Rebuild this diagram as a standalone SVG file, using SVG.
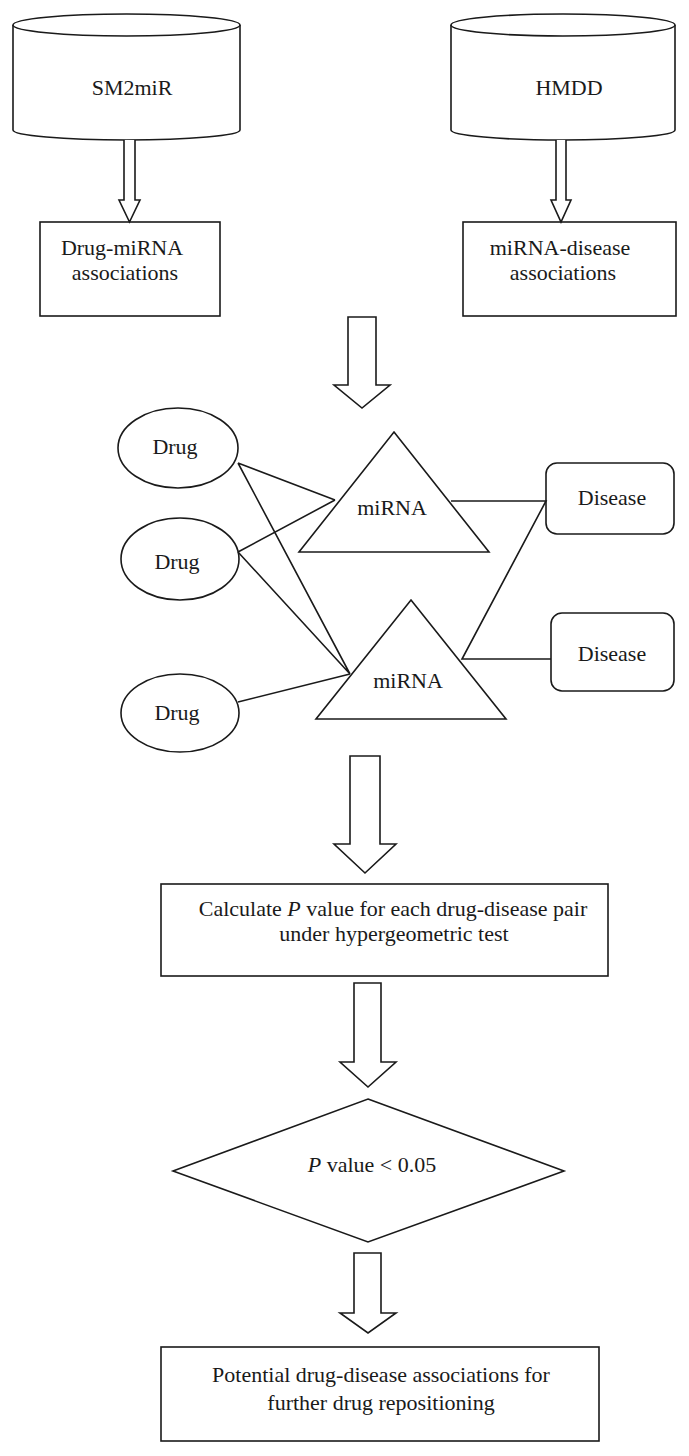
<svg xmlns="http://www.w3.org/2000/svg" width="689" height="1456" viewBox="0 0 689 1456">
<style>
.s{fill:#fff;stroke:#1a1a1a;stroke-width:1.6;stroke-linejoin:miter}
.l{fill:none;stroke:#1a1a1a;stroke-width:1.6}
.t{font-family:"Liberation Serif","Times New Roman",serif;font-size:22px;fill:#1a1a1a;text-anchor:middle}
</style>
<rect width="689" height="1456" fill="#fff"/>
<g id="sm2mir">
<path class="s" d="M13,25 L13,130 A113.5,10 0 0 0 240,130 L240,25"/>
<ellipse class="s" cx="126.5" cy="25" rx="113.5" ry="11"/>
<text class="t" x="132" y="95">SM2miR</text>
</g>
<g id="hmdd">
<path class="s" d="M451,25 L451,130 A112,10 0 0 0 675,130 L675,25"/>
<ellipse class="s" cx="563" cy="25" rx="112" ry="11"/>
<text class="t" x="569" y="95">HMDD</text>
</g>
<g id="drug-mirna">
<rect class="s" x="40" y="222" width="180" height="94"/>
<text class="t" x="122" y="255">Drug-miRNA</text>
<text class="t" x="125" y="280">associations</text>
</g>
<g id="mirna-disease">
<rect class="s" x="463" y="222" width="213" height="94"/>
<text class="t" x="560" y="255">miRNA-disease</text>
<text class="t" x="563" y="280">associations</text>
</g>
<g id="drug1">
<ellipse class="s" cx="178" cy="448" rx="60" ry="40"/>
<text class="t" x="175" y="454">Drug</text>
</g>
<g id="drug2">
<ellipse class="s" cx="180" cy="559" rx="59" ry="41"/>
<text class="t" x="177" y="569">Drug</text>
</g>
<g id="drug3">
<ellipse class="s" cx="180" cy="713" rx="59" ry="39"/>
<text class="t" x="177" y="720">Drug</text>
</g>
<g id="mirna1">
<polygon class="s" points="394,432 489,552 299,552"/>
<text class="t" x="392" y="515">miRNA</text>
</g>
<g id="mirna2">
<polygon class="s" points="411,600 506,719 316,719"/>
<text class="t" x="408" y="688">miRNA</text>
</g>
<g id="disease1">
<rect class="s" x="546" y="463" width="128" height="71" rx="11"/>
<text class="t" x="612" y="505">Disease</text>
</g>
<g id="disease2">
<rect class="s" x="551" y="613" width="123" height="78" rx="11"/>
<text class="t" x="612" y="661">Disease</text>
</g>
<g id="calc">
<rect class="s" x="161" y="884" width="447" height="92"/>
<text class="t" x="393" y="916">Calculate <tspan font-style="italic">P</tspan> value for each drug-disease pair</text>
<text class="t" x="394" y="941">under hypergeometric test</text>
</g>
<g id="decision">
<polygon class="s" points="368,1099 564,1171 368,1242 173,1171"/>
<text class="t" x="372" y="1172"><tspan font-style="italic">P</tspan> value &lt; 0.05</text>
</g>
<g id="result">
<rect class="s" x="161" y="1347" width="438" height="94"/>
<text class="t" x="381" y="1382">Potential drug-disease associations for</text>
<text class="t" x="381" y="1410">further drug repositioning</text>
</g>
<g id="connectors">
<path class="s" d="M124,140 L124,200 L119,200 L129.5,222 L140,200 L135,200 L135,140"/>
<path class="s" d="M556,140 L556,200 L551,200 L561,222 L571,200 L566,200 L566,140"/>
<polygon class="s" points="348,317 376,317 376,385 390,385 362,408 334,385 348,385"/>
<polygon class="s" points="350,756 380,756 380,844 396,844 365,873 334,844 350,844"/>
<polygon class="s" points="354,983 381,983 381,1062 396,1062 368,1087 340,1062 354,1062"/>
<polygon class="s" points="354,1253 381,1253 381,1313 396,1313 368,1333 340,1313 354,1313"/>
<path class="l" d="M238,463 L335,500 M238,463 L350,674 M238,552 L335,500 M238,552 L350,674 M238,702 L350,674"/>
<path class="l" d="M451,501 L546,501 L462,659 L551,659"/>
</g>
</svg>
